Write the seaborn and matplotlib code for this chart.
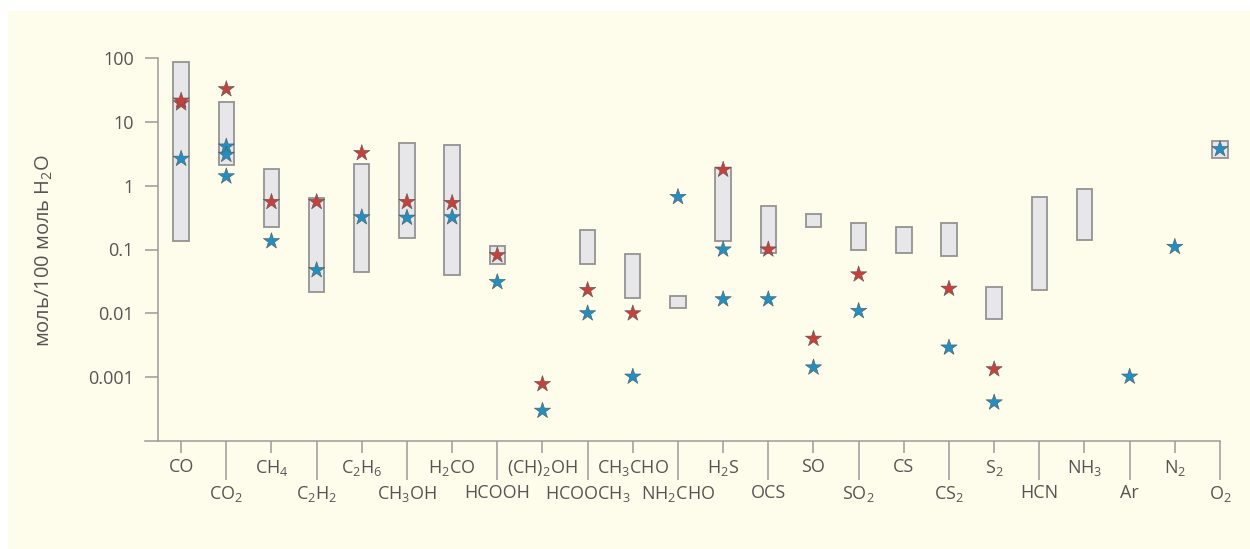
import numpy as np
import matplotlib
matplotlib.use("Agg")
import matplotlib.pyplot as plt
from matplotlib.patches import Rectangle
from matplotlib.ticker import FixedLocator, FixedFormatter, NullLocator
import pandas as pd
import seaborn as sns

# molecules along the x axis
molecules = ["CO", "CO2", "CH4", "C2H2", "C2H6", "CH3OH", "H2CO", "HCOOH", "(CH)2OH",
             "HCOOCH3", "CH3CHO", "NH2CHO", "H2S", "OCS", "SO", "SO2", "CS", "CS2",
             "S2", "HCN", "NH3", "Ar", "N2", "O2"]
tick_labels = ["CO", "CO$_2$", "CH$_4$", "C$_2$H$_2$", "C$_2$H$_6$", "CH$_3$OH", "H$_2$CO",
               "HCOOH", "(CH)$_2$OH", "HCOOCH$_3$", "CH$_3$CHO", "NH$_2$CHO", "H$_2$S",
               "OCS", "SO", "SO$_2$", "CS", "CS$_2$", "S$_2$", "HCN", "NH$_3$", "Ar",
               "N$_2$", "O$_2$"]

# ranges (gray boxes), nan = no box
range_lo = [0.135, 2.13, 0.226, 0.0219, 0.0448, 0.149, 0.0393, 0.0597, np.nan, 0.0597,
            0.0176, 0.0123, 0.135, 0.0866, 0.223, 0.0977, 0.0866, 0.0787, 0.00826,
            0.0232, 0.143, np.nan, np.nan, 2.71]
range_hi = [86, 20.7, 1.82, 0.645, 2.18, 4.64, 4.37, 0.1155, np.nan, 0.2,
            0.0835, 0.0187, 1.89, 0.475, 0.36, 0.261, 0.223, 0.261, 0.0258,
            0.665, 0.897, np.nan, np.nan, 4.93]

# red stars
red_mol = ["CO", "CO", "CO2", "CH4", "C2H2", "C2H6", "CH3OH", "H2CO", "HCOOH", "(CH)2OH",
           "HCOOCH3", "CH3CHO", "H2S", "OCS", "SO", "SO2", "CS2", "S2"]
red_val = [19.5, 21.5, 32.5, 0.556, 0.556, 3.24, 0.556, 0.537, 0.0815, 0.00078,
           0.0232, 0.01, 1.78, 0.1, 0.004, 0.0407, 0.0243, 0.00133]

# blue stars
blue_mol = ["CO", "CO2", "CO2", "CO2", "CH4", "C2H2", "C2H6", "CH3OH", "H2CO", "HCOOH",
            "(CH)2OH", "HCOOCH3", "CH3CHO", "NH2CHO", "H2S", "H2S", "OCS", "SO", "SO2",
            "CS2", "S2", "Ar", "N2", "O2"]
blue_val = [2.64, 4.1, 3.05, 1.4, 0.135, 0.0475, 0.32, 0.315, 0.32, 0.0309,
            0.000298, 0.01, 0.00102, 0.665, 0.1, 0.0166, 0.0166, 0.00142, 0.0109,
            0.00291, 0.000402, 0.00102, 0.11, 3.74]

yticks = [0.001, 0.01, 0.1, 1, 10, 100]
ytick_labels = ["0.001", "0.01", "0.1", "1", "10", "100"]

sns.set_theme(style="white")
plt.rcParams["font.family"] = ["Open Sans", "DejaVu Sans"]
plt.rcParams["mathtext.default"] = "regular"

cream = "#fefdec"
axis_col = "#9a9a9a"
text_col = "#555555"

pos = {m: i for i, m in enumerate(molecules)}
stars = pd.DataFrame({
    "x": [pos[m] for m in red_mol] + [pos[m] for m in blue_mol],
    "y": red_val + blue_val,
    "kind": ["red"] * len(red_mol) + ["blue"] * len(blue_mol),
})

fig = plt.figure(figsize=(12.5, 5.49), dpi=100, facecolor="white")
fig.patches.append(Rectangle((8 / 1250, 0), 1, 1 - 11 / 549, transform=fig.transFigure,
                             facecolor=cream, edgecolor="none", zorder=-10))
ax = fig.add_axes([145 / 1250, 1 - 441 / 549, (1220 - 145) / 1250, (441 - 58) / 549])
ax.set_facecolor("none")

ax.set_yscale("log")
lo = np.array(range_lo)
hi = np.array(range_hi)
has = ~np.isnan(lo)
xs = np.arange(len(molecules))
ax.bar(xs[has], hi[has] - lo[has], bottom=lo[has], width=0.34, color="#e7e7e9",
       edgecolor="#939393", linewidth=1.3, zorder=2, clip_on=False)

sns.scatterplot(data=stars, x="x", y="y", hue="kind",
                palette={"red": "#c9403a", "blue": "#1f90c6"}, marker="*", s=150,
                edgecolor="#555555", linewidth=0.4, legend=False, zorder=3,
                clip_on=False, ax=ax)

ax.set_xlim(-0.8, 23)
ax.set_ylim(1e-4, 100)

for s in ["top", "right"]:
    ax.spines[s].set_visible(False)
ax.spines["left"].set_position(("data", -0.509))
for s in ["left", "bottom"]:
    ax.spines[s].set_color(axis_col)
    ax.spines[s].set_linewidth(1.1)

ax.yaxis.set_major_locator(FixedLocator(yticks))
ax.yaxis.set_major_formatter(FixedFormatter(ytick_labels))
ax.yaxis.set_minor_locator(NullLocator())
ax.tick_params(axis="y", which="major", direction="out", length=9.4, width=1.1,
               color=axis_col, labelsize=13, labelcolor=text_col, pad=8, left=True)

ax.xaxis.set_major_locator(FixedLocator(xs[0::2]))
ax.xaxis.set_major_formatter(FixedFormatter(tick_labels[0::2]))
ax.xaxis.set_minor_locator(FixedLocator(xs[1::2]))
ax.xaxis.set_minor_formatter(FixedFormatter(tick_labels[1::2]))
ax.tick_params(axis="x", which="major", direction="out", length=8.6, width=1.1,
               color=axis_col, labelsize=13, labelcolor=text_col, pad=4, bottom=True)
ax.tick_params(axis="x", which="minor", direction="out", length=28, width=1.1,
               color=axis_col, labelsize=13, labelcolor=text_col, pad=3, bottom=True)
ax.set_xlabel("")
ax.set_ylabel("")

fig.text(44 / 1250, 1 - 251 / 549, "моль/100 моль H$_2$O", rotation=90, ha="center",
         va="center", fontsize=14.5, color=text_col)

fig.savefig("out.png", dpi=100, facecolor="white")
